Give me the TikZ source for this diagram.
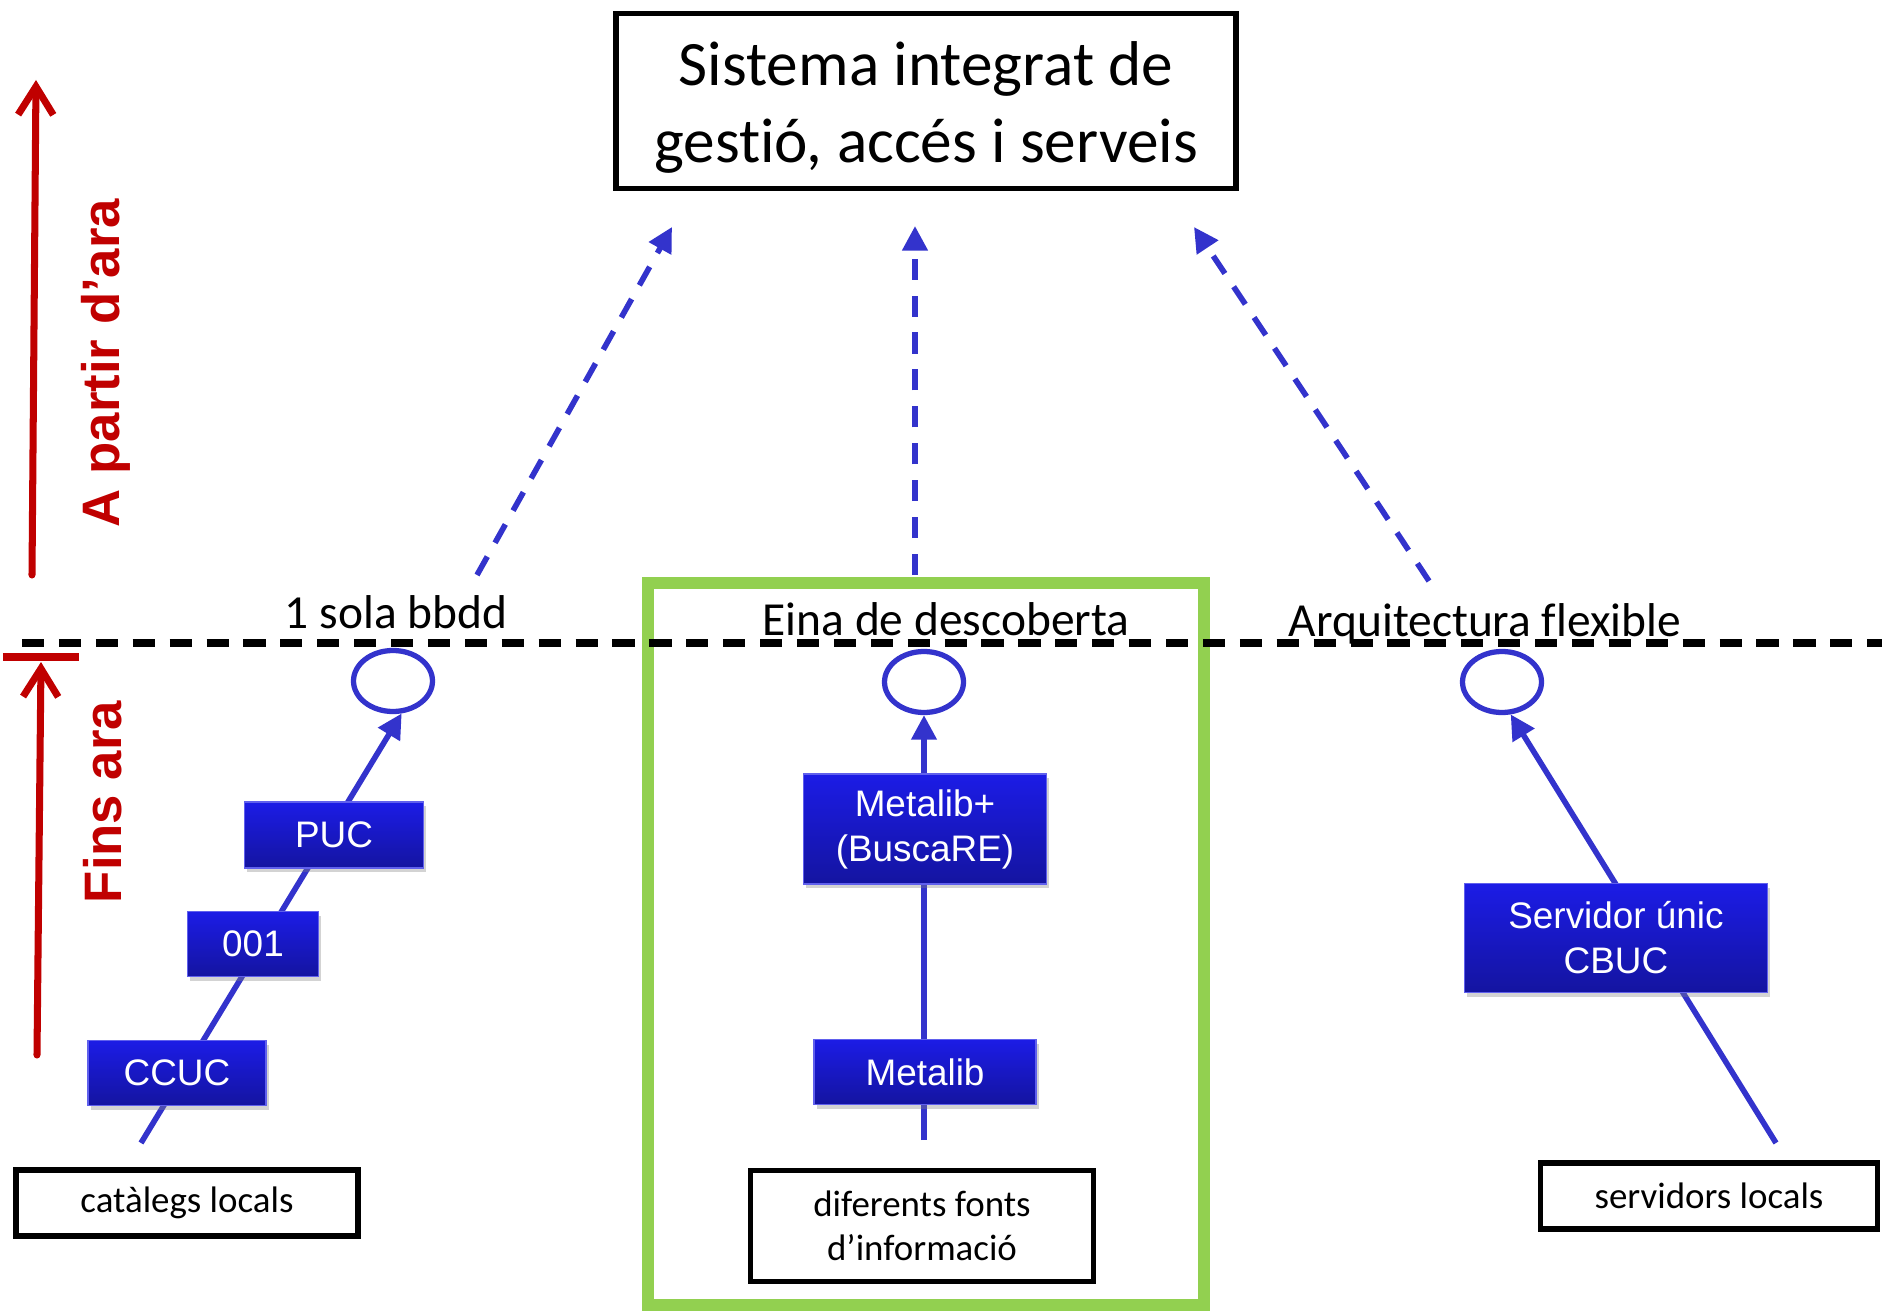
\documentclass[tikz,border=0pt]{standalone}
\usepackage{fontspec}
\setmainfont{Carlito}[Ligatures=NoCommon]
\newfontfamily\arialfont{Liberation Sans}
\usetikzlibrary{arrows.meta}
\usetikzlibrary{shapes.geometric}
\usetikzlibrary{shadows}

\definecolor{fletxa}{RGB}{51,51,204}
\definecolor{vermell}{RGB}{192,0,0}
\definecolor{verd}{RGB}{146,208,80}
\definecolor{blaudalt}{RGB}{28,28,230}
\definecolor{blaubaix}{RGB}{20,20,160}

\tikzset{
  caixa/.style={draw=black, line width=1.5pt, fill=white, inner sep=0pt, align=center, font=\fontsize{10.5}{12.6}\selectfont},
  blau/.style={top color=blaudalt, bottom color=blaubaix, draw=blaudalt!70!white, line width=0.4pt, text=white, inner sep=0pt, align=center, font=\arialfont\fontsize{10.5}{12.8}\selectfont, drop shadow={opacity=0.35, shadow xshift=0.8pt, shadow yshift=-1.2pt}},
  bola/.style={ellipse, draw=fletxa, line width=1.5pt, minimum width=0.79cm, minimum height=0.61cm, inner sep=0pt},
  puja/.style={draw=fletxa, line width=1.6pt, -{Triangle[length=7pt,width=7pt]}},
  futur/.style={puja, dash pattern=on 6pt off 4.5pt},
  etiq/.style={font=\fontsize{13.5}{16}\selectfont, inner sep=0pt, anchor=base},
  temps/.style={vermell, line width=2pt, line cap=round, -{Straight Barb[length=8pt,width=10pt,line width=2pt]}},
  lema/.style={text=vermell, font=\arialfont\bfseries\fontsize{15}{18}\selectfont, rotate=90, inner sep=0pt, anchor=base},
}

\begin{document}
\begin{tikzpicture}

\useasboundingbox (0,0) rectangle (18.82,-13.11);

\node[caixa, minimum width=6.20cm, minimum height=1.75cm, font=\fontsize{18}{22}\selectfont] (sistema) at (9.26,-1.01) {\rule{0pt}{16pt}Sistema integrat de\\gestió, accés i serveis};

\coordinate (ara0) at (0.32,-5.75);
\coordinate (ara1) at (0.36,-0.80);
\coordinate (fins0) at (0.37,-10.55);
\coordinate (fins1) at (0.41,-6.62);
\coordinate (barra0) at (0.03,-6.57);
\coordinate (barra1) at (0.79,-6.57);

\draw[temps] (ara0) -- (ara1);
\draw[vermell, line width=2pt] (barra0) -- (barra1);
\draw[temps] (fins0) -- (fins1);
\node[lema] (apartir) at (1.19,-3.63) {A partir d’ara};
\node[lema] (finsara) at (1.21,-8.02) {Fins ara};

\draw[verd, line width=3.2pt] (6.48,-5.83) rectangle (12.04,-13.05);
\draw[black, line width=2pt, dash pattern=on 6.3pt off 4.2pt] (0.22,-6.43) -- (18.82,-6.43);

\node[etiq] (sola) at (3.96,-6.29) {1 sola bbdd};
\node[etiq] (eina) at (9.46,-6.35) {Eina de descoberta};
\node[etiq] (arquitectura) at (14.85,-6.36) {Arquitectura flexible};

\node[bola] (o1) at (3.93,-6.81) {};
\node[bola] (o2) at (9.24,-6.82) {};
\node[bola] (o3) at (15.02,-6.82) {};

\coordinate (bcat) at (1.41,-11.43);
\coordinate (bfonts) at (9.24,-11.40);
\coordinate (bserv) at (17.76,-11.43);

\draw[puja] (bcat) -- (o1.-75);
\draw[puja] (bfonts) -- (o2);
\draw[puja] (bserv) -- (o3.-75);

\node[blau, minimum width=1.79cm, minimum height=0.66cm] (puc) at (3.34,-8.35) {PUC};
\node[blau, minimum width=1.31cm, minimum height=0.65cm] (c001) at (2.53,-9.44) {001};
\node[blau, minimum width=1.78cm, minimum height=0.65cm] (ccuc) at (1.77,-10.73) {CCUC};

\node[blau, minimum width=2.43cm, minimum height=1.10cm] (mplus) at (9.25,-8.29) {Metalib+\\(BuscaRE)};
\node[blau, minimum width=2.22cm, minimum height=0.65cm] (metalib) at (9.25,-10.72) {Metalib};

\node[blau, minimum width=3.03cm, minimum height=1.09cm] (servidor) at (16.16,-9.38) {Servidor únic\\CBUC};

\node[caixa, minimum width=3.42cm, minimum height=0.66cm] (cataleg) at (1.87,-12.03) {catàlegs locals};
\node[caixa, minimum width=3.43cm, minimum height=1.11cm] (fonts) at (9.22,-12.26) {diferents fonts\\d’informació};
\node[caixa, minimum width=3.37cm, minimum height=0.66cm] (locals) at (17.09,-11.96) {servidors locals};

\coordinate (d1) at (4.77,-5.75);
\coordinate (d2) at (9.15,-5.75);
\coordinate (d3) at (14.29,-5.81);
\coordinate (s1) at (6.72,-2.27);
\coordinate (s2) at (9.15,-2.26);
\coordinate (s3) at (11.94,-2.27);

\draw[futur] (d1) -- (s1);
\draw[futur] (d2) -- (s2);
\draw[futur] (d3) -- (s3);

\end{tikzpicture}
\end{document}
